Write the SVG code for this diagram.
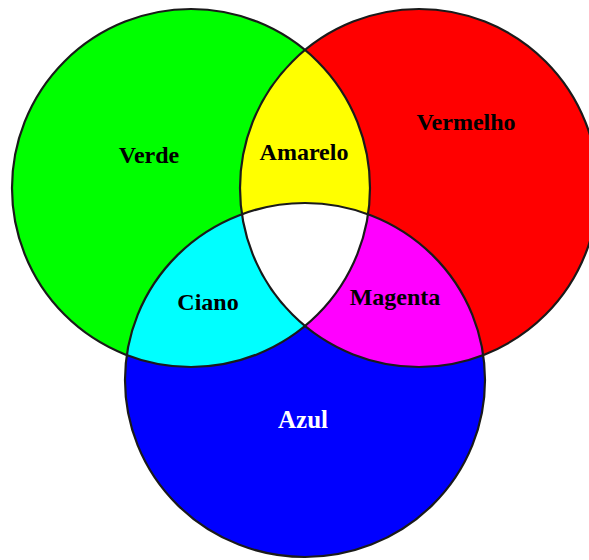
<svg xmlns="http://www.w3.org/2000/svg" width="589" height="560" viewBox="0 0 589 560">
<style>
.edge{fill:none;stroke:#1a1a1a;stroke-width:2.2}
.lbl{font-family:"Liberation Serif","Times New Roman",serif;font-weight:bold;font-size:24px;text-anchor:middle;fill:#000}
</style>
<defs>
<clipPath id="cG"><circle cx="191" cy="188" r="179"/></clipPath>
<clipPath id="cR"><circle cx="419" cy="188" r="179"/></clipPath>
<clipPath id="cB"><ellipse cx="305" cy="380" rx="180" ry="177"/></clipPath>
</defs>
<rect width="589" height="560" fill="#fff"/>
<g id="verde">
<circle cx="191" cy="188" r="179" fill="#00ff00"/>
</g>
<g id="vermelho">
<circle cx="419" cy="188" r="179" fill="#ff0000"/>
</g>
<g id="azul">
<ellipse cx="305" cy="380" rx="180" ry="177" fill="#0000ff"/>
</g>
<g id="amarelo">
<g clip-path="url(#cG)"><circle cx="419" cy="188" r="179" fill="#ffff00"/></g>
</g>
<g id="ciano">
<g clip-path="url(#cG)"><ellipse cx="305" cy="380" rx="180" ry="177" fill="#00ffff"/></g>
</g>
<g id="magenta">
<g clip-path="url(#cR)"><ellipse cx="305" cy="380" rx="180" ry="177" fill="#ff00ff"/></g>
</g>
<g id="branco">
<g clip-path="url(#cG)"><g clip-path="url(#cR)"><ellipse cx="305" cy="380" rx="180" ry="177" fill="#ffffff"/></g></g>
</g>
<g id="edges">
<circle class="edge" cx="191" cy="188" r="179"/>
<circle class="edge" cx="419" cy="188" r="179"/>
<ellipse class="edge" cx="305" cy="380" rx="180" ry="177"/>
</g>
<g id="labels">
<text class="lbl" x="149" y="163">Verde</text>
<text class="lbl" x="304" y="160">Amarelo</text>
<text class="lbl" x="466" y="130">Vermelho</text>
<text class="lbl" x="208" y="310">Ciano</text>
<text class="lbl" x="395" y="305">Magenta</text>
<text class="lbl" x="303" y="428" style="fill:#fff;font-size:25px">Azul</text>
</g>
</svg>
